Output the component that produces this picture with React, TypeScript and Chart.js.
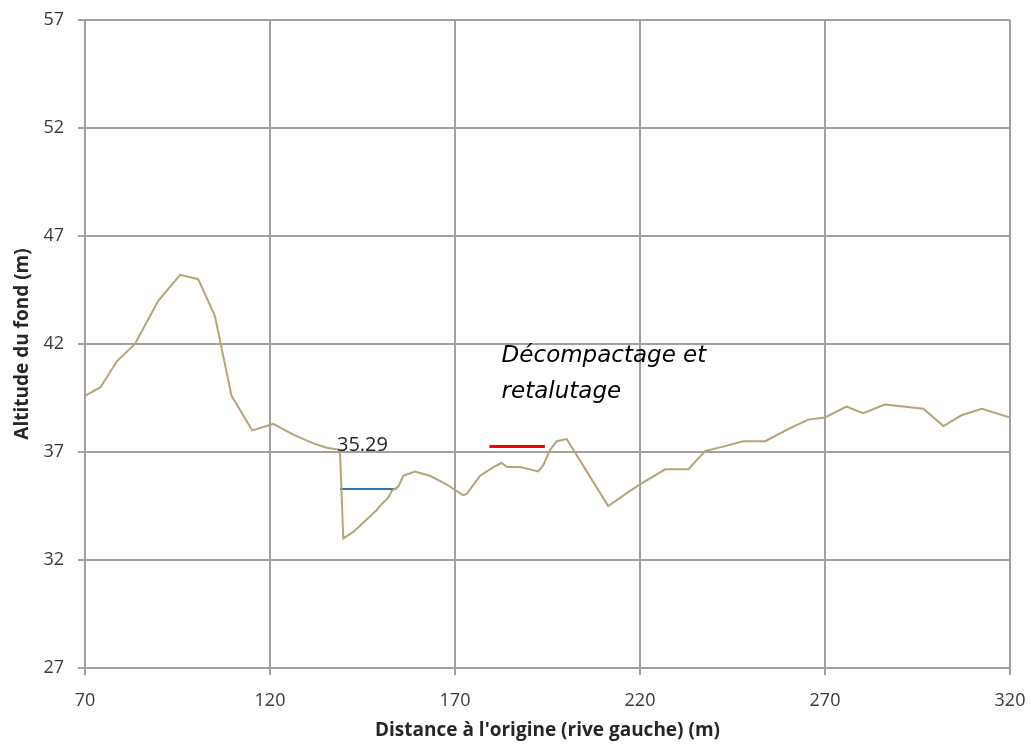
import React, { useEffect, useRef } from "react";
import { Chart, registerables } from "chart.js";

Chart.register(...registerables);

// Profile: distance from origin (m) and bed altitude (m)
const distances = [
  70, 74.2, 78.6, 83.5, 89.8, 95.7, 100.6, 105.1, 109.6, 115.2, 120.9, 126.3,
  131.7, 135.3, 138.9, 139.8, 142.5, 148.8, 149.7, 152.0, 152.9, 154.7, 156.0,
  159.2, 163.2, 167.7, 169.5, 172.2, 173.1, 176.8, 180.4, 182.6, 184.0, 187.6,
  192.5, 193.9, 195.7, 197.5, 200.2, 203.8, 211.4, 217.3, 220.0, 226.8, 233.1,
  237.6, 242.5, 247.9, 253.8, 260.5, 265.5, 270.0, 275.8, 280.3, 286.2, 296.6,
  302.0, 306.9, 312.4, 320,
];
const altitudes = [
  39.6, 40.0, 41.2, 42.0, 44.0, 45.2, 45.0, 43.3, 39.6, 38.0, 38.3, 37.8,
  37.4, 37.2, 37.1, 33.0, 33.3, 34.3, 34.5, 34.9, 35.2, 35.4, 35.9,
  36.1, 35.9, 35.5, 35.3, 35.0, 35.05, 35.9, 36.3, 36.5, 36.3, 36.3,
  36.1, 36.4, 37.1, 37.5, 37.6, 36.6, 34.5, 35.2, 35.5, 36.2, 36.2,
  37.05, 37.25, 37.5, 37.5, 38.1, 38.5, 38.6, 39.1, 38.8, 39.2, 39.0,
  38.2, 38.7, 39.0, 38.6,
];

// Water level segment (blue)
const waterX = [138.9, 154.2];
const waterLevel = 35.29;

// Works segment (red)
const worksX = [179.3, 194.3];
const worksLevel = 37.25;

// Labels
const waterLabel = "35.29";
const waterLabelPos = [138.1, 37.3];
const noteLines = ["Décompactage et", "retalutage"];
const notePos = [182.6, 41.17, 39.5];

const xTicks = [70, 120, 170, 220, 270, 320];
const yTicks = [27, 32, 37, 42, 47, 52, 57];

const xTitle = "Distance à l'origine (rive gauche) (m)";
const yTitle = "Altitude du fond (m)";

const gridColor = "#a0a0a0";

const textPlugin = {
  id: "textAnnotations",
  afterDatasetsDraw(chart: any) {
    const { ctx, scales } = chart;
    const x = scales.x;
    const y = scales.y;
    ctx.save();
    ctx.fillStyle = "#262626";
    ctx.font = '20px "Open Sans"';
    ctx.textAlign = "left";
    ctx.textBaseline = "middle";
    ctx.fillText(
      waterLabel,
      x.getPixelForValue(waterLabelPos[0]),
      y.getPixelForValue(waterLabelPos[1])
    );
    ctx.fillStyle = "#000000";
    ctx.font = 'italic 23px "DejaVu Sans"';
    ctx.textBaseline = "alphabetic";
    ctx.fillText(noteLines[0], x.getPixelForValue(notePos[0]), y.getPixelForValue(notePos[1]));
    ctx.fillText(noteLines[1], x.getPixelForValue(notePos[0]), y.getPixelForValue(notePos[2]));
    ctx.restore();
  },
};

export default function App() {
  const canvasRef = useRef<HTMLCanvasElement | null>(null);

  useEffect(() => {
    const canvas = canvasRef.current;
    if (!canvas) return;
    const profile = distances.map((d, i) => ({ x: d, y: altitudes[i] }));
    const water = waterX.map((d) => ({ x: d, y: waterLevel }));
    const works = worksX.map((d) => ({ x: d, y: worksLevel }));

    const chart = new Chart(canvas, {
      type: "line",
      data: {
        datasets: [
          {
            data: profile,
            borderColor: "#b3a479",
            borderWidth: 2,
            pointRadius: 0,
            tension: 0,
          },
          {
            data: water,
            borderColor: "#2e75b6",
            borderWidth: 2,
            pointRadius: 0,
          },
          {
            data: works,
            borderColor: "#ff0000",
            borderWidth: 3,
            pointRadius: 0,
          },
        ],
      },
      options: {
        responsive: false,
        animation: false,
        layout: { padding: { top: 20, right: 21, left: 0, bottom: 0 } },
        plugins: {
          legend: { display: false },
          tooltip: { enabled: false },
        },
        scales: {
          x: {
            type: "linear",
            min: 70,
            max: 320,
            afterBuildTicks: (scale: any) => {
              scale.ticks = xTicks.map((v) => ({ value: v }));
            },
            afterFit: (scale: any) => {
              scale.height = 77;
              scale.paddingLeft = 0;
              scale.paddingRight = 0;
            },
            grid: { color: gridColor, lineWidth: 2, tickLength: 7 },
            border: { color: gridColor, width: 2 },
            ticks: {
              padding: 15,
              color: "#3a3a3a",
              font: { family: "Open Sans", size: 18 },
              maxRotation: 0,
            },
            title: {
              display: true,
              text: xTitle,
              color: "#262626",
              font: { family: "Open Sans", size: 19, weight: "bold" },
              padding: { top: 0, bottom: 3 },
            },
          },
          y: {
            type: "linear",
            min: 27,
            max: 57,
            afterBuildTicks: (scale: any) => {
              scale.ticks = yTicks.map((v) => ({ value: v }));
            },
            afterFit: (scale: any) => {
              scale.width = 85;
              scale.paddingTop = 0;
              scale.paddingBottom = 0;
            },
            grid: { color: gridColor, lineWidth: 2, tickLength: 7 },
            border: { color: gridColor, width: 2 },
            ticks: {
              padding: 14,
              color: "#3a3a3a",
              font: { family: "Open Sans", size: 18 },
            },
            title: {
              display: true,
              text: yTitle,
              color: "#262626",
              font: { family: "Open Sans", size: 19, weight: "bold" },
              padding: { top: 11, bottom: 0 },
            },
          },
        },
      },
      plugins: [textPlugin],
    });
    return () => chart.destroy();
  }, []);

  return (
    <div style={{ position: "absolute", left: 0, top: 0, width: 1031, height: 745 }}>
      <canvas ref={canvasRef} width={1031} height={745} />
    </div>
  );
}
